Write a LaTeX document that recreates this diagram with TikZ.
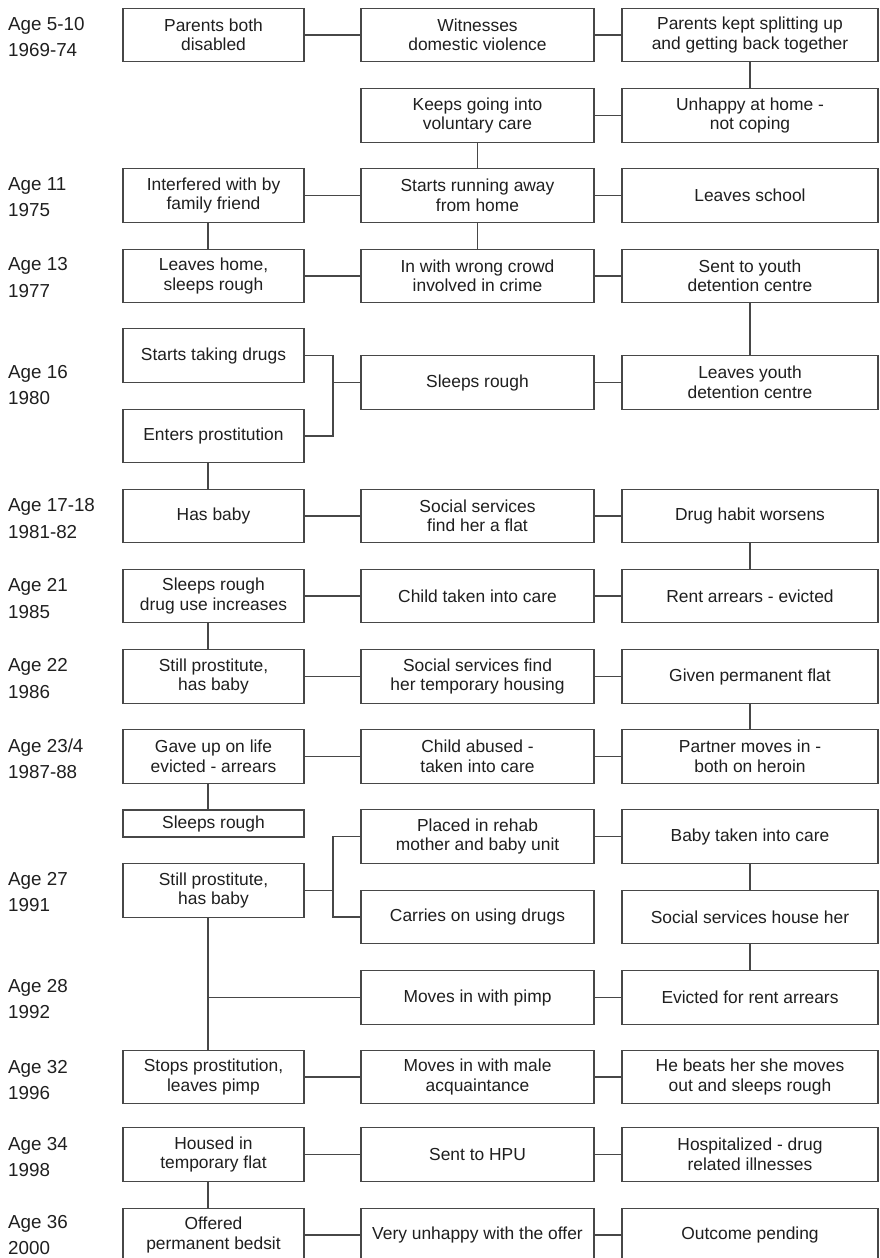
\documentclass[tikz,border=0pt]{standalone}
\usepackage{fontspec}
\setmainfont{Liberation Sans}
\begin{document}
\begin{tikzpicture}[x=1pt,y=-1pt,
  ev/.style={draw=black!72, line width=1.4pt, fill=white, text=black!88,
    align=center, inner sep=0pt, minimum height=53.5pt,
    font=\fontsize{17.4}{19.5}\selectfont},
  colA/.style={ev, minimum width=181pt},
  colB/.style={ev, minimum width=233pt},
  colC/.style={ev, minimum width=256pt},
  lab/.style={anchor=west, align=left, inner sep=0pt, text=black!88,
    font=\fontsize{18.8}{26.7}\selectfont},
  link/.style={draw=black!72, line width=1.4pt}]

\fill[white] (0,0) rectangle (879,1258);
\useasboundingbox (0,0) rectangle (879,1258);

% column x positions: A = 213.5, B = 477.5, C = 750
\coordinate (v) at (208,0);

% age / year labels
\node[lab] (l1)  at (8,37)     {Age 5-10\\1969-74};
\node[lab] (l2)  at (8,197)    {Age 11\\1975};
\node[lab] (l3)  at (8,277.5)  {Age 13\\1977};
\node[lab] (l4)  at (8,385)    {Age 16\\1980};
\node[lab] (l5)  at (8,518.3)  {Age 17-18\\1981-82};
\node[lab] (l6)  at (8,598.4)  {Age 21\\1985};
\node[lab] (l7)  at (8,678.7)  {Age 22\\1986};
\node[lab] (l8)  at (8,758.8)  {Age 23/4\\1987-88};
\node[lab] (l9)  at (8,892)    {Age 27\\1991};
\node[lab] (l10) at (8,999)    {Age 28\\1992};
\node[lab] (l11) at (8,1080)   {Age 32\\1996};
\node[lab] (l12) at (8,1157)   {Age 34\\1998};
\node[lab] (l13) at (8,1235)   {Age 36\\2000};

% events
\node[colA] (r1a) at (213.5,35) {Parents both\\disabled};
\node[colB] (r1b) at (477.5,35) {Witnesses\\domestic violence};
\node[colC] (r1c) at (750,35)   {Parents kept splitting up\\and getting back together};

\node[colB] (r2b) at (477.5,115.5) {Keeps going into\\voluntary care};
\node[colC] (r2c) at (750,115.5)   {Unhappy at home -\\not coping};

\node[colA] (r3a) at (213.5,195.5) {Interfered with by\\family friend};
\node[colB] (r3b) at (477.5,195.5) {Starts running away\\from home};
\node[colC] (r3c) at (750,195.5)   {Leaves school};

\node[colA] (r4a) at (213.5,276) {Leaves home,\\sleeps rough};
\node[colB] (r4b) at (477.5,276) {In with wrong crowd\\involved in crime};
\node[colC] (r4c) at (750,276)   {Sent to youth\\detention centre};

\node[colA] (r5a1) at (213.5,355.5) {Starts taking drugs};
\node[colA] (r5a2) at (213.5,436)   {Enters prostitution};
\node[colB] (r5b)  at (477.5,382.5) {Sleeps rough};
\node[colC] (r5c)  at (750,382.5)   {Leaves youth\\detention centre};

\node[colA] (r6a) at (213.5,516) {Has baby};
\node[colB] (r6b) at (477.5,516) {Social services\\find her a flat};
\node[colC] (r6c) at (750,516)   {Drug habit worsens};

\node[colA] (r7a) at (213.5,596) {Sleeps rough\\drug use increases};
\node[colB] (r7b) at (477.5,596) {Child taken into care};
\node[colC] (r7c) at (750,596)   {Rent arrears - evicted};

\node[colA] (r8a) at (213.5,676.5) {Still prostitute,\\has baby};
\node[colB] (r8b) at (477.5,676.5) {Social services find\\her temporary housing};
\node[colC] (r8c) at (750,676.5)   {Given permanent flat};

\node[colA] (r9a) at (213.5,756.5) {Gave up on life\\evicted - arrears};
\node[colB] (r9b) at (477.5,756.5) {Child abused -\\taken into care};
\node[colC] (r9c) at (750,756.5)   {Partner moves in -\\both on heroin};

\node[colA, minimum height=27pt] (r10a1) at (213.5,823.5) {Sleeps rough};
\node[colB] (r10b1) at (477.5,836.5) {Placed in rehab\\mother and baby unit};
\node[colC] (r10c1) at (750,836.5)   {Baby taken into care};
\node[colA] (r10a2) at (213.5,890.5) {Still prostitute,\\has baby};
\node[colB] (r10b2) at (477.5,917)   {Carries on using drugs};
\node[colC] (r10c2) at (750,917)     {Social services house her};

\node[colB] (r11b) at (477.5,997.5) {Moves in with pimp};
\node[colC] (r11c) at (750,997.5)   {Evicted for rent arrears};

\node[colA] (r12a) at (213.5,1077) {Stops prostitution,\\leaves pimp};
\node[colB] (r12b) at (477.5,1077) {Moves in with male\\acquaintance};
\node[colC] (r12c) at (750,1077)   {He beats her she moves\\out and sleeps rough};

\node[colA] (r13a) at (213.5,1154.5) {Housed in\\temporary flat};
\node[colB] (r13b) at (477.5,1154.5) {Sent to HPU};
\node[colC] (r13c) at (750,1154.5)   {Hospitalized - drug\\related illnesses};

\node[colA] (r14a) at (213.5,1235) {Offered\\permanent bedsit};
\node[colB] (r14b) at (477.5,1235) {Very unhappy with the offer};
\node[colC] (r14c) at (750,1235)   {Outcome pending};

% connectors
\draw[link] (r1a) -- (r1b);
\draw[link] (r1b) -- (r1c);
\draw[link] (r1c) -- (r2c);
\draw[link] (r2b) -- (r2c);
\draw[link] (r2b) -- (r3b);
\draw[link] (r3a) -- (r3b);
\draw[link] (r3b) -- (r3c);
\draw[link] (r3a.south -| v) -- (r4a.north -| v);
\draw[link] (r3b) -- (r4b);
\draw[link] (r4a) -- (r4b);
\draw[link] (r4b) -- (r4c);
\draw[link] (r4c) -- (r5c);

\coordinate (j5) at (333,382.5);
\draw[link] (r5a1.east) -| (j5) |- (r5a2.east);
\draw[link] (j5) -- (r5b);
\draw[link] (r5b) -- (r5c);
\draw[link] (r5a2.south -| v) -- (r6a.north -| v);

\draw[link] (r6a) -- (r6b);
\draw[link] (r6b) -- (r6c);
\draw[link] (r6c) -- (r7c);
\draw[link] (r7a) -- (r7b);
\draw[link] (r7b) -- (r7c);
\draw[link] (r7a.south -| v) -- (r8a.north -| v);
\draw[link] (r8a) -- (r8b);
\draw[link] (r8b) -- (r8c);
\draw[link] (r8c) -- (r9c);
\draw[link] (r9a) -- (r9b);
\draw[link] (r9b) -- (r9c);
\draw[link] (r9a.south -| v) -- (r10a1.north -| v);

\coordinate (j10) at (333,890.5);
\draw[link] (r10b1.west) -| (j10) |- (r10b2.west);
\draw[link] (r10a2) -- (j10);
\draw[link] (r10b1) -- (r10c1);
\draw[link] (r10c1) -- (r10c2);
\draw[link] (r10c2) -- (r11c);

\coordinate (j11) at (208,997.5);
\draw[link] (r10a2.south -| v) -- (r12a.north -| v);
\draw[link] (j11) -- (r11b);
\draw[link] (r11b) -- (r11c);

\draw[link] (r12a) -- (r12b);
\draw[link] (r12b) -- (r12c);
\draw[link] (r13a) -- (r13b);
\draw[link] (r13b) -- (r13c);
\draw[link] (r13a.south -| v) -- (r14a.north -| v);
\draw[link] (r14a) -- (r14b);
\draw[link] (r14b) -- (r14c);
\end{tikzpicture}
\end{document}
